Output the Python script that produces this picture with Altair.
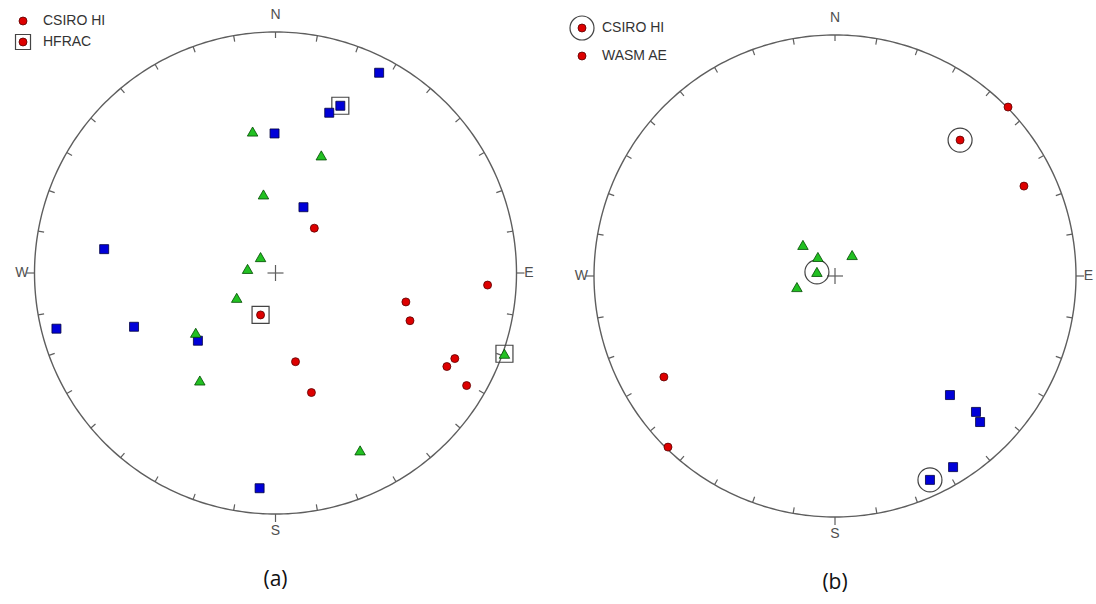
import altair as alt
import numpy as np
import pandas as pd

# ---------------- data (stereonet coords: east = u, north = v, unit radius) ----
# Panel (a)
A_RED_U = [0.161, 0.880, 0.541, 0.558, -0.062, 0.083, 0.744, 0.711, 0.793, 0.149]
A_RED_V = [0.186, -0.050, -0.120, -0.198, -0.174, -0.368, -0.355, -0.388, -0.467, -0.496]
A_BLUE_U = [0.430, 0.269, 0.223, -0.004, 0.116, -0.711, -0.909, -0.587, -0.322, -0.066]
A_BLUE_V = [0.831, 0.694, 0.665, 0.579, 0.273, 0.099, -0.231, -0.223, -0.281, -0.893]
A_GREEN_U = [-0.095, 0.190, -0.050, -0.062, -0.116, -0.161, -0.331, -0.314, 0.351, 0.950]
A_GREEN_V = [0.587, 0.488, 0.326, 0.066, 0.017, -0.103, -0.248, -0.446, -0.736, -0.335]
A_BOX_U = [0.269, -0.062, 0.950]
A_BOX_V = [0.694, -0.174, -0.335]

# Panel (b)
B_RED_U = [0.718, 0.519, 0.784, -0.710, -0.693]
B_RED_V = [0.701, 0.564, 0.373, -0.419, -0.710]
B_BLUE_U = [0.477, 0.585, 0.602, 0.490, 0.394]
B_BLUE_V = [-0.494, -0.564, -0.606, -0.793, -0.846]
B_GREEN_U = [-0.133, -0.071, 0.071, -0.075, -0.158]
B_GREEN_V = [0.129, 0.079, 0.087, 0.017, -0.046]
B_RING_U = [0.519, 0.394, -0.075]
B_RING_V = [0.564, -0.846, 0.017]

PANELS = ["a", "b"]
CAPTIONS = ["(a)", "(b)"]
CARDINALS = ["N", "E", "S", "W"]
CARD_AZ = [0, 90, 180, 270]
LEGEND_A = ["CSIRO HI", "HFRAC"]
LEGEND_B = ["CSIRO HI", "WASM AE"]

# ---------------- layout ------------------------------------------------------
PX = 241.0  # pixels per unit radius
OFF = {"a": (0.0, 0.0), "b": (2.3216, -0.0124)}
XDOM = [-1.1432, 3.4046]
YDOM = [-1.3734, 1.1328]
xs = alt.Scale(domain=XDOM, nice=False, zero=False)
ys = alt.Scale(domain=YDOM, nice=False, zero=False)
X = alt.X("X:Q", scale=xs, axis=None)
Y = alt.Y("Y:Q", scale=ys, axis=None)
GRAY = "#5e5e5e"
LABEL_R = [1.07, 1.052, 1.07, 1.052]


def place(pn, u, v, **extra):
    ox, oy = OFF[pn]
    d = {"X": np.asarray(u, float) + ox, "Y": np.asarray(v, float) + oy}
    d.update(extra)
    return pd.DataFrame(d)


# circle outlines
az = np.arange(0, 361, 1)
circ = pd.concat([
    place(p, np.sin(np.radians(az)), np.cos(np.radians(az)), panel=p, o=az)
    for p in PANELS
])
circle_layer = alt.Chart(circ).mark_line(color=GRAY, strokeWidth=1.4).encode(
    x=X, y=Y, detail="panel:N", order="o:Q")

# ticks every 10 degrees
rows = []
for p in PANELS:
    for a in range(0, 360, 10):
        if a in (90, 180, 270):
            r0, r1 = 1.0, 1.0 + 8 / PX
        else:
            r0, r1 = 1.0 - 6 / PX, 1.0
        s, c = np.sin(np.radians(a)), np.cos(np.radians(a))
        ox, oy = OFF[p]
        rows.append({"X": r0 * s + ox, "Y": r0 * c + oy,
                     "X2": r1 * s + ox, "Y2": r1 * c + oy})
# centre crosses
for p in PANELS:
    ox, oy = OFF[p]
    h = 8 / PX
    rows.append({"X": ox - h, "Y": oy, "X2": ox + h, "Y2": oy})
    rows.append({"X": ox, "Y": oy - h, "X2": ox, "Y2": oy + h})
ticks = pd.DataFrame(rows)
tick_layer = alt.Chart(ticks).mark_rule(color=GRAY, strokeWidth=1.2).encode(
    x=X, y=Y, x2="X2:Q", y2="Y2:Q")

# cardinal labels
lab = pd.concat([
    place(p, [r * np.sin(np.radians(a)) for a, r in zip(CARD_AZ, LABEL_R)],
          [r * np.cos(np.radians(a)) for a, r in zip(CARD_AZ, LABEL_R)],
          t=CARDINALS)
    for p in PANELS
])
label_layer = alt.Chart(lab).mark_text(
    font="Liberation Sans", fontSize=14, color="#505050",
    align="center", baseline="middle").encode(x=X, y=Y, text="t:N")

# captions
cap = pd.concat([place(p, [0.0], [-1.274], t=[c]) for p, c in zip(PANELS, CAPTIONS)])
cap_layer = alt.Chart(cap).mark_text(
    font="Open Sans", fontSize=21, color="#111111",
    align="center", baseline="middle").encode(x=X, y=Y, text="t:N")

# data markers
red = pd.concat([place("a", A_RED_U, A_RED_V), place("b", B_RED_U, B_RED_V)])
blue = pd.concat([place("a", A_BLUE_U, A_BLUE_V), place("b", B_BLUE_U, B_BLUE_V)])
green = pd.concat([place("a", A_GREEN_U, A_GREEN_V), place("b", B_GREEN_U, B_GREEN_V)])

red_style = dict(shape="circle", filled=True, size=64, fill="#dd0000",
                 stroke="#5a0000", strokeWidth=0.8, opacity=1)
red_layer = alt.Chart(red).mark_point(**red_style).encode(x=X, y=Y)
blue_layer = alt.Chart(blue).mark_point(
    shape="square", filled=True, size=81, fill="#0000d8",
    stroke="#000040", strokeWidth=0.8, opacity=1).encode(x=X, y=Y)
green_layer = alt.Chart(green).mark_point(
    shape="triangle-up", filled=True, size=110, fill="#22c022",
    stroke="#004a00", strokeWidth=0.8, opacity=1).encode(x=X, y=Y)

boxes = place("a", A_BOX_U, A_BOX_V)
box_layer = alt.Chart(boxes).mark_point(
    shape="square", filled=False, size=289, stroke="#444444",
    strokeWidth=1.2, opacity=1).encode(x=X, y=Y)
rings = place("b", B_RING_U, B_RING_V)
ring_layer = alt.Chart(rings).mark_point(
    shape="circle", filled=False, size=576, stroke="#444444",
    strokeWidth=1.2, opacity=1).encode(x=X, y=Y)

# legends
def px_to_xy(px, py):
    return (px - 275.5) / PX, (273 - py) / PX

la1 = px_to_xy(23, 21)
la2 = px_to_xy(23, 42)
lb1 = px_to_xy(582, 28)
lb2 = px_to_xy(582, 56)
leg_pts = pd.DataFrame({"X": [la1[0], la2[0], lb1[0], lb2[0]],
                        "Y": [la1[1], la2[1], lb1[1], lb2[1]]})
leg_red = alt.Chart(leg_pts).mark_point(**red_style).encode(x=X, y=Y)
leg_box = alt.Chart(leg_pts.iloc[[1]]).mark_point(
    shape="square", filled=False, size=225, stroke="#444444",
    strokeWidth=1.2, opacity=1).encode(x=X, y=Y)
leg_ring = alt.Chart(leg_pts.iloc[[2]]).mark_point(
    shape="circle", filled=False, size=576, stroke="#444444",
    strokeWidth=1.2, opacity=1).encode(x=X, y=Y)
tx_a = px_to_xy(43, 0)[0]
tx_b = px_to_xy(602, 0)[0]
leg_txt = pd.DataFrame({
    "X": [tx_a, tx_a, tx_b, tx_b],
    "Y": [la1[1], la2[1], lb1[1], lb2[1]],
    "t": LEGEND_A + LEGEND_B,
})
leg_text = alt.Chart(leg_txt).mark_text(
    font="Liberation Sans", fontSize=14, color="#333333",
    align="left", baseline="middle").encode(x=X, y=Y, text="t:N")

chart = alt.layer(
    circle_layer, tick_layer, label_layer, cap_layer,
    box_layer, ring_layer, red_layer, blue_layer, green_layer,
    leg_red, leg_box, leg_ring, leg_text,
).properties(
    width=1096, height=604, padding=0, autosize="none", background="white"
).configure_view(strokeWidth=0)

chart.save("out.html", embed_options={"renderer": "svg", "actions": False})
